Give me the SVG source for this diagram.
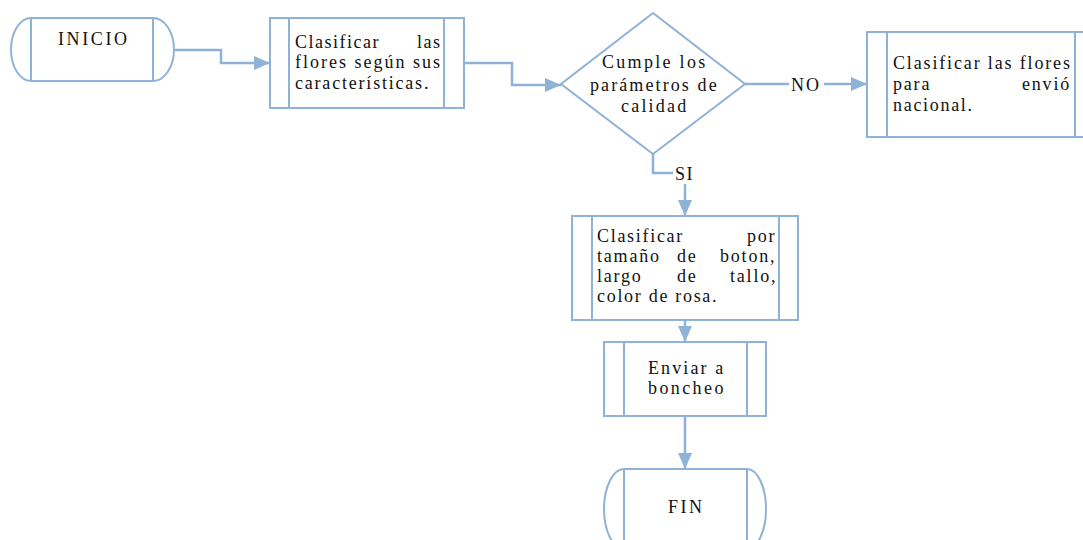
<svg xmlns="http://www.w3.org/2000/svg" width="1083" height="540" viewBox="0 0 1083 540">
<defs>
<marker id="arr" markerWidth="16" markerHeight="14" refX="16" refY="7" orient="auto" markerUnits="userSpaceOnUse">
<path d="M0,0 L16,7 L0,14 Z" fill="#8FB3D6"/>
</marker>
</defs>
<rect width="1083" height="540" fill="#fff"/>
<g id="connectors" fill="none" stroke="#8FB3D6" stroke-width="2.5">
<path d="M174,50 H221 V63 H270" marker-end="url(#arr)"/>
<path d="M464,63 H512 V85 H561" marker-end="url(#arr)"/>
<path d="M745,84 H789"/>
<path d="M824,84 H867" marker-end="url(#arr)"/>
<path d="M653,154 V173 H673"/>
<path d="M685,184 V216" marker-end="url(#arr)"/>
<path d="M685,320 V342" marker-end="url(#arr)"/>
<path d="M685,416 V469" marker-end="url(#arr)"/>
<text font-family="Liberation Serif" font-size="18" fill="#111" stroke="none" letter-spacing="2" x="791" y="91">NO</text>
<text font-family="Liberation Serif" font-size="18" fill="#111" stroke="none" letter-spacing="1.5" x="675" y="180">SI</text>
</g>
<g id="inicio">
<path fill="#fff" stroke="#8FB3D6" stroke-width="2" d="M31,18 H153 A21,31.5 0 0 1 153,81 H31 A20,31.5 0 0 1 31,18 Z"/>
<path fill="none" stroke="#8FB3D6" stroke-width="2" d="M31,18 V81 M153,18 V81"/>
<text font-family="Liberation Serif" font-size="18" fill="#111" letter-spacing="2.6" x="58" y="45">INICIO</text>
</g>
<g id="clasificar1">
<rect fill="#fff" stroke="#8FB3D6" stroke-width="2" x="270" y="18" width="194" height="90"/>
<path fill="none" stroke="#8FB3D6" stroke-width="2" d="M289,18 V108 M444,18 V108"/>
<text font-family="Liberation Serif" font-size="18" fill="#111" letter-spacing="1.5" x="295" y="48">Clasificar</text>
<text font-family="Liberation Serif" font-size="18" fill="#111" letter-spacing="1.5" x="417" y="48">las</text>
<text font-family="Liberation Serif" font-size="18" fill="#111" letter-spacing="2" x="295" y="68">flores según sus</text>
<text font-family="Liberation Serif" font-size="18" fill="#111" letter-spacing="1.8" x="295" y="89">características.</text>
</g>
<g id="decision">
<polygon fill="#fff" stroke="#8FB3D6" stroke-width="2" points="653,13 745,84 653,154 561,84"/>
<text font-family="Liberation Serif" font-size="18" fill="#111" letter-spacing="2.3" x="602" y="68">Cumple los</text>
<text font-family="Liberation Serif" font-size="18" fill="#111" letter-spacing="2.1" x="590" y="91">parámetros de</text>
<text font-family="Liberation Serif" font-size="18" fill="#111" letter-spacing="2.2" x="621" y="112">calidad</text>
</g>
<g id="nacional">
<rect fill="#fff" stroke="#8FB3D6" stroke-width="2" x="867" y="32" width="230" height="105"/>
<path fill="none" stroke="#8FB3D6" stroke-width="2" d="M887,32 V137 M1075,32 V137"/>
<text font-family="Liberation Serif" font-size="18" fill="#111" letter-spacing="1.85" x="893" y="69">Clasificar las flores</text>
<text font-family="Liberation Serif" font-size="18" fill="#111" letter-spacing="1.8" x="893" y="90">para</text>
<text font-family="Liberation Serif" font-size="18" fill="#111" letter-spacing="1.8" x="1022" y="90">envió</text>
<text font-family="Liberation Serif" font-size="18" fill="#111" letter-spacing="1.7" x="893" y="111">nacional.</text>
</g>
<g id="clasificar2">
<rect fill="#fff" stroke="#8FB3D6" stroke-width="2" x="572" y="216" width="226" height="104"/>
<path fill="none" stroke="#8FB3D6" stroke-width="2" d="M592,216 V320 M779,216 V320"/>
<text font-family="Liberation Serif" font-size="18" fill="#111" letter-spacing="1.7" x="597" y="242">Clasificar</text>
<text font-family="Liberation Serif" font-size="18" fill="#111" letter-spacing="1.8" x="747" y="242">por</text>
<text font-family="Liberation Serif" font-size="18" fill="#111" letter-spacing="1.8" x="597" y="262">tamaño</text>
<text font-family="Liberation Serif" font-size="18" fill="#111" letter-spacing="1.8" x="677" y="262">de</text>
<text font-family="Liberation Serif" font-size="18" fill="#111" letter-spacing="1.8" x="720" y="262">boton,</text>
<text font-family="Liberation Serif" font-size="18" fill="#111" letter-spacing="1.8" x="597" y="282">largo</text>
<text font-family="Liberation Serif" font-size="18" fill="#111" letter-spacing="1.8" x="677" y="282">de</text>
<text font-family="Liberation Serif" font-size="18" fill="#111" letter-spacing="1.8" x="730" y="282">tallo,</text>
<text font-family="Liberation Serif" font-size="18" fill="#111" letter-spacing="1.7" x="597" y="302">color de rosa.</text>
</g>
<g id="boncheo">
<rect fill="#fff" stroke="#8FB3D6" stroke-width="2" x="604" y="342" width="162" height="74"/>
<path fill="none" stroke="#8FB3D6" stroke-width="2" d="M624,342 V416 M747,342 V416"/>
<text font-family="Liberation Serif" font-size="18" fill="#111" letter-spacing="2.1" x="648" y="374">Enviar a</text>
<text font-family="Liberation Serif" font-size="18" fill="#111" letter-spacing="2.4" x="648" y="394">boncheo</text>
</g>
<g id="fin">
<path fill="#fff" stroke="#8FB3D6" stroke-width="2" d="M624,469 H747 A19,40 0 0 1 747,549 H624 A20,40 0 0 1 624,469 Z"/>
<path fill="none" stroke="#8FB3D6" stroke-width="2" d="M624,469 V549 M747,469 V549"/>
<text font-family="Liberation Serif" font-size="18" fill="#111" letter-spacing="2.5" x="668" y="513">FIN</text>
</g>
</svg>
